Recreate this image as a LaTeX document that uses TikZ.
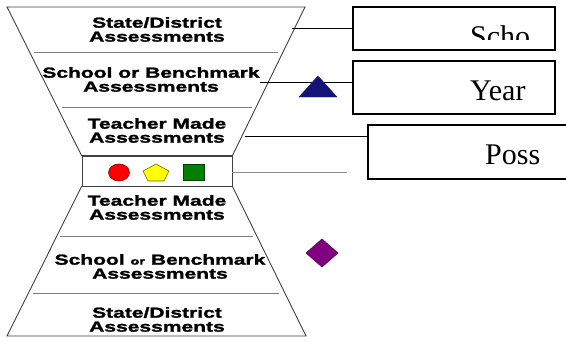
\documentclass[tikz,border=0pt]{standalone}
\usepackage{fontspec}
\setmainfont{Liberation Serif}
\newfontfamily\lbl[FakeStretch=1.45, BoldFeatures={FakeBold=1.6}]{Liberation Sans}
\definecolor{navyblue}{RGB}{20,20,120}
\definecolor{purp}{RGB}{128,0,128}
\definecolor{grn}{RGB}{0,128,0}
\definecolor{yel}{RGB}{255,255,0}
\begin{document}
\begin{tikzpicture}[x=1pt,y=-1pt,
  funnel/.style={draw=black!75, line width=0.9pt},
  divider/.style={draw=black!50, line width=0.8pt},
  lbltext/.style={font=\lbl\bfseries\fontsize{14.5}{14}\selectfont, align=center, inner sep=0pt, anchor=south},
  box/.style={draw=black, line width=1.3pt, inner sep=0pt},
  boxtext/.style={font=\fontsize{30}{30}\selectfont, inner sep=0pt, anchor=base west},
  conn/.style={draw=black, line width=0.9pt}]
\useasboundingbox (0,0) rectangle (566,341);

% middle box
\node[draw=black!75, line width=0.9pt, minimum width=150pt, minimum height=30pt, inner sep=0pt] (mid) at (157,171) {};

% top funnel
\draw[funnel] (7,7) -- (305,7) -- (mid.north east) -- (mid.north west) -- cycle;
\draw[divider] (34,52) -- (278,52);
\draw[divider] (62,107) -- (252,107);

% bottom funnel
\draw[funnel] (mid.south west) -- (mid.south east) -- (306,336) -- (7,336) -- cycle;
\draw[divider] (60,236) -- (253,236);
\draw[divider] (33,293) -- (279,293);

% labels
\node[lbltext] (t1) at (157,42) {State/District\\Assessments};
\node[lbltext] (t2) at (151,92) {School or Benchmark\\Assessments};
\node[lbltext] (t3) at (157,143) {Teacher Made\\Assessments};
\node[lbltext] (t4) at (157,220) {Teacher Made\\Assessments};
\node[lbltext] (t5) at (160,279) {School {\fontsize{10}{10}\selectfont or} Benchmark\\Assessments};
\node[lbltext] (t6) at (157,332) {State/District\\Assessments};

% shapes in middle box
\draw[fill=red, draw=red!50!black, line width=0.6pt] (119,172.5) ellipse [x radius=10.5, y radius=8.5];
\draw[fill=yel, draw=yel!40!black, line width=0.6pt] (156,164) -- (169,171) -- (164,181) -- (148,181) -- (143,171) -- cycle;
\draw[fill=grn, draw=grn!50!black, line width=0.6pt] (183,164) rectangle (204,180);

% right boxes
\node[box, minimum width=202pt, minimum height=43pt] (b1) at (454,28.5) {};
\node[box, minimum width=202pt, minimum height=53pt] (b2) at (454,87.5) {};
\node[box, minimum width=232pt, minimum height=54pt] (b3) at (484,152) {};

\begin{scope}
  \clip (353,7) rectangle (555,39.5);
  \node[boxtext] (s1) at (470,46) {Scho};
\end{scope}
\node[boxtext] (s2) at (470,100.5) {Year};
\node[boxtext] (s3) at (485,164) {Poss};

% connectors
\coordinate (c1) at (292,28);
\draw[conn] (c1) -- (c1 -| b1.west);
\coordinate (c2) at (260,82);
\draw[conn] (c2) -- (c2 -| b2.west);
\coordinate (c3) at (245,136);
\draw[conn] (c3) -- (c3 -| b3.west);
\coordinate (c4) at (347,172);
\draw[draw=black!45, line width=0.8pt] (mid.east |- c4) -- (c4);

% triangle and diamond
\draw[fill=navyblue, draw=navyblue] (318,76) -- (337,97) -- (299,97) -- cycle;
\draw[fill=purp, draw=purp!60!black, line width=0.6pt] (322,239) -- (338,253) -- (322,267) -- (306,253) -- cycle;
\end{tikzpicture}
\end{document}
